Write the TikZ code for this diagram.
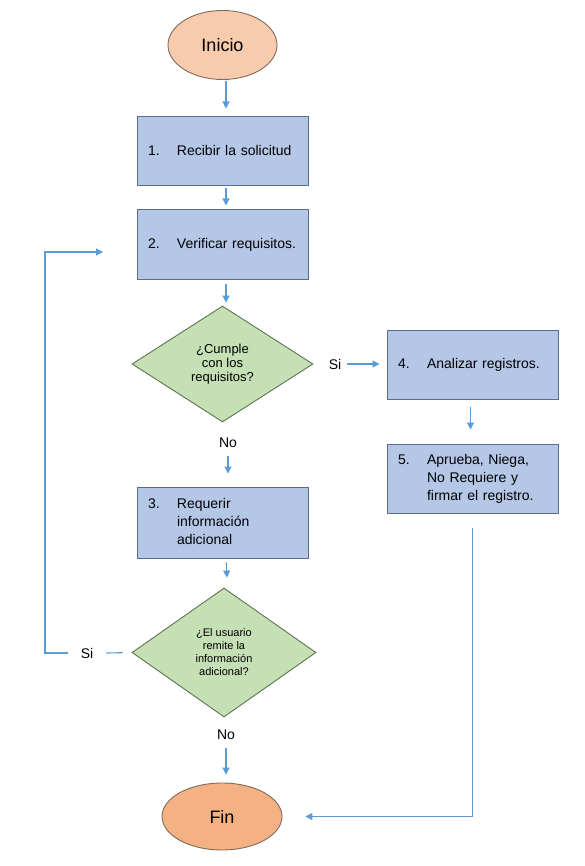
\documentclass[tikz,border=0pt]{standalone}
\usepackage{fontspec}
\setmainfont{Liberation Sans}
\usetikzlibrary{shapes.geometric,arrows.meta}
\definecolor{arrowc}{HTML}{5B9BD5}
\definecolor{peachA}{HTML}{F8CBAD}
\definecolor{peachB}{HTML}{F4B183}
\definecolor{ellbord}{HTML}{7F6A5C}
\definecolor{boxfill}{HTML}{B4C7E7}
\definecolor{boxbord}{HTML}{5B6B8A}
\definecolor{diafill}{HTML}{C5E0B4}
\definecolor{diabord}{HTML}{5F7352}
\newcommand\itm[2]{\makebox[29pt][l]{#1}\begin{tabular}[t]{@{}l@{}}#2\end{tabular}}
\tikzset{
  term/.style={ellipse, draw=ellbord, line width=0.9pt, inner sep=0pt,
    font=\fontsize{18}{20}\selectfont},
  procbox/.style={rectangle, draw=boxbord, fill=boxfill, line width=1pt,
    minimum width=171pt, minimum height=69pt, inner xsep=11pt, inner ysep=0pt,
    text width=149pt, align=left, font=\fontsize{14}{18}\selectfont},
  decis/.style={diamond, draw=diabord, fill=diafill, line width=0.9pt,
    inner sep=0pt, align=center},
  lbl/.style={font=\fontsize{14}{16}\selectfont, inner sep=6pt},
  arr/.style={draw=arrowc, line width=1.1pt, -{Triangle[length=7pt,width=7pt]}},
  ln/.style={draw=arrowc, line width=1.1pt}
}
\begin{document}
\begin{tikzpicture}[x=1pt,y=-1pt]
\fill[white] (0,0) rectangle (584,866);
\useasboundingbox (0,0) rectangle (584,866);

\node[term, fill=peachA, minimum width=109pt, minimum height=69pt] (inicio) at (222.5,45) {Inicio};
\node[procbox] (b1) at (222.5,151.5) {\itm{1.}{Recibir la solicitud}};
\node[procbox] (b2) at (222.5,244.5) {\itm{2.}{Verificar requisitos.}};
\node[decis, minimum width=181pt, minimum height=116pt,
      font=\fontsize{13}{14}\selectfont] (d1) at (222.5,364) {¿Cumple\\con los\\requisitos?};
\node[lbl] (no1) at (228,443) {No};
\node[lbl] (si1) at (335,364) {Si};
\node[procbox, minimum height=71pt] (b3) at (222.5,522.5) {\itm{3.}{Requerir\\información\\adicional}};
\node[decis, minimum width=184pt, minimum height=129pt,
      font=\fontsize{11}{13}\selectfont] (d2) at (224,652.5) {¿El usuario\\remite la\\información\\adicional?};
\node[lbl, inner xsep=13pt] (si2) at (87,653) {Si};
\node[lbl] (no2) at (226,735) {No};
\node[term, fill=peachB, minimum width=120pt, minimum height=67pt] (fin) at (222,816.5) {Fin};
\node[procbox] (b4) at (472.5,364.5) {\itm{4.}{Analizar registros.}};
\node[procbox] (b5) at (472.5,478.5) {\itm{5.}{Aprueba, Niega,\\No Requiere y\\firmar el registro.}};

\coordinate (loopL) at (45,653);
\coordinate (loopEnd) at (103,252);

% main column
\draw[arr, shorten >=8pt, shorten <=1pt] ([xshift=3.5pt]inicio.south) -- ([xshift=3.5pt]b1.north);
\draw[arr, shorten >=4pt, shorten <=2pt] ([xshift=3.5pt]b1.south) -- ([xshift=3.5pt]b2.north);
\draw[arr, shorten >=3pt, shorten <=4pt] ([xshift=3.5pt]b2.south) -- ([xshift=3.5pt]d1.north);
\draw[arr, shorten >=13pt, shorten <=2pt] (no1.south) -- (no1.south |- b3.north);
\draw[arr, shorten >=10pt, shorten <=4pt] ([xshift=3.5pt]b3.south) -- ([xshift=3.5pt]d2.north);
\draw[arr, shorten >=8pt, shorten <=2pt] (no2.south) -- (no2.south |- fin.north);

% Si branch
\draw[arr, shorten >=7pt] (si1.east) -- (si1.east -| b4.west);
\draw[arr, shorten >=14pt, shorten <=7pt] ([xshift=-2pt]b4.south) -- ([xshift=-2pt]b5.north);
\draw[arr, shorten >=23pt] ([yshift=-14pt]b5.south) |- (fin.east);

% loop back
\draw[ln, shorten <=9pt] (d2.west) -- (si2.east);
\draw[arr] (si2.west) -- (loopL) |- (loopEnd);
\end{tikzpicture}
\end{document}
